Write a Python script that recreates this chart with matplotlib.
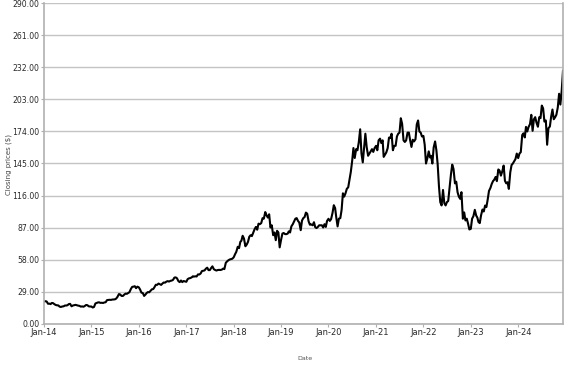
import numpy as np
import pandas as pd
import matplotlib
matplotlib.use("Agg")
import matplotlib.pyplot as plt
import matplotlib.dates as mdates
from matplotlib.ticker import MultipleLocator, FormatStrFormatter

# closing prices, three readings per month (1st, 11th, 21st)
p2014 = [19.9, 20.2, 20.0, 17.9, 18.0, 17.6, 18.6, 18.5, 17.6, 16.8, 16.5, 16.4,
         15.3, 15.0, 15.4, 15.6, 16.3, 16.3, 16.6, 17.6, 17.8, 15.6, 16.3, 16.6,
         16.9, 16.5, 16.2, 16.0, 15.3, 15.5, 15.2, 15.9, 16.8, 16.6, 15.6, 15.4]
p2015 = [15.4, 14.5, 15.0, 18.2, 18.7, 19.1, 19.2, 18.7, 18.8, 18.6, 19.1, 19.3,
         21.2, 21.3, 21.5, 21.4, 21.7, 21.8, 21.9, 22.6, 24.2, 26.7, 26.3, 25.0,
         25.0, 26.2, 27.1, 26.9, 27.6, 28.4, 31.3, 33.2, 33.4, 33.8, 32.0, 33.4]
p2016 = [32.8, 30.8, 28.0, 27.6, 25.0, 26.2, 27.6, 28.5, 28.3, 29.7, 31.0, 31.2,
         33.0, 35.1, 35.0, 36.2, 35.6, 35.0, 36.2, 37.2, 37.0, 38.0, 38.4, 38.0,
         38.7, 38.9, 39.6, 41.6, 41.8, 41.0, 38.4, 37.5, 39.0, 37.5, 38.5, 38.2]
p2017 = [37.8, 40.2, 40.9, 41.2, 41.8, 42.8, 42.5, 42.8, 42.6, 44.5, 44.4, 45.3,
         47.5, 47.8, 48.1, 49.7, 50.6, 48.4, 48.4, 50.3, 51.8, 49.2, 48.5, 48.0,
         48.5, 48.6, 48.5, 48.8, 49.7, 49.3, 55.0, 56.3, 57.3, 58.0, 58.4, 58.7]
p2018 = [60.0, 62.7, 65.0, 69.5, 68.3, 74.0, 75.0, 79.5, 77.0, 70.0, 71.5, 74.0,
         78.6, 80.0, 79.2, 82.5, 85.5, 87.5, 85.0, 90.5, 90.0, 91.0, 95.5, 95.0,
         101.0, 98.0, 96.0, 99.0, 87.0, 89.0, 80.0, 82.5, 75.5, 84.0, 82.5, 69.0]
p2019 = [76.0, 81.5, 82.0, 81.0, 81.0, 81.5, 83.5, 82.5, 88.0, 90.0, 92.5, 95.0,
         95.5, 93.0, 91.5, 84.6, 93.3, 95.5, 96.5, 100.5, 99.5, 92.5, 89.5, 89.8,
         89.0, 91.8, 87.2, 86.5, 87.5, 89.0, 89.0, 89.0, 87.0, 90.0, 87.5, 93.0]
p2020 = [94.9, 93.0, 94.6, 100.2, 107.2, 104.6, 96.0, 88.0, 95.0, 95.5, 103.0, 118.0,
         115.0, 118.0, 122.0, 123.5, 130.5, 137.5, 147.0, 159.0, 150.0, 158.0, 157.0, 164.0,
         176.0, 154.0, 146.0, 159.0, 172.0, 160.0, 152.0, 154.0, 156.0, 158.0, 155.5, 159.0]
p2021 = [161.0, 157.0, 166.0, 167.5, 163.5, 166.0, 151.0, 153.0, 155.0, 159.0, 168.5, 168.0,
         172.0, 157.0, 161.0, 161.0, 169.5, 172.0, 173.0, 186.0, 181.0, 166.0, 164.5, 166.0,
         173.0, 173.0, 166.0, 160.0, 166.5, 165.0, 167.0, 180.5, 184.0, 174.0, 173.0, 169.5]
p2022 = [170.0, 162.0, 145.0, 150.0, 156.0, 150.5, 152.0, 145.0, 159.5, 165.0, 157.0, 144.0,
         124.0, 110.0, 107.0, 121.0, 109.0, 107.0, 110.0, 111.0, 122.5, 135.0, 144.0, 140.0,
         127.0, 128.5, 119.0, 115.0, 113.0, 119.0, 95.0, 100.7, 93.4, 95.0, 90.5, 85.2]
p2023 = [85.8, 95.0, 97.2, 103.0, 98.0, 95.8, 92.0, 91.0, 98.0, 103.3, 101.5, 106.9,
         105.5, 112.2, 120.1, 122.8, 126.4, 129.0, 130.4, 132.8, 129.0, 139.6, 138.4, 134.0,
         138.1, 143.1, 129.3, 127.0, 128.0, 122.0, 137.0, 143.6, 145.0, 147.0, 149.0, 154.0]
p2024 = [149.9, 154.0, 155.3, 170.8, 172.3, 168.6, 178.2, 174.0, 178.1, 180.7, 189.1, 174.6,
         185.0, 187.0, 182.0, 178.3, 186.9, 186.1, 197.5, 195.0, 183.0, 184.0, 162.0, 177.0,
         178.5, 187.5, 193.9, 185.1, 186.8, 189.1, 195.8, 208.2, 198.4, 210.7, 229.0]

prices = p2014 + p2015 + p2016 + p2017 + p2018 + p2019 + p2020 + p2021 + p2022 + p2023 + p2024

months = pd.date_range("2014-01-01", "2024-12-01", freq="MS")
dates = [m + pd.Timedelta(days=d) for m in months for d in (0, 10, 20)]
dates = dates[:len(prices)]

fig = plt.figure(figsize=(5.77, 3.67), dpi=100)
ax = fig.add_axes([0.0763, 0.1185, 0.8994, 0.872])

ax.plot(dates, prices, color="black", linewidth=1.5)

ax.set_xlim(pd.Timestamp("2014-01-01"), dates[-1])
ax.set_ylim(0, 290)
ax.yaxis.set_major_locator(MultipleLocator(29))
ax.yaxis.set_major_formatter(FormatStrFormatter("%.2f"))
ax.xaxis.set_major_locator(mdates.YearLocator())
ax.xaxis.set_major_formatter(mdates.DateFormatter("Jan-%y"))

ax.grid(axis="y", color="#c4c4c4", linewidth=1)
ax.set_axisbelow(True)
for side in ["left", "bottom", "right"]:
    ax.spines[side].set_color("#b0b0b0")
    ax.spines[side].set_linewidth(1.2)
ax.spines["top"].set_visible(False)

ax.tick_params(axis="both", colors="#b0b0b0", labelcolor="#2a2a2a", length=2, pad=1.5)
ax.tick_params(axis="y", labelsize=5.6)
ax.tick_params(axis="x", labelsize=6)

fig.text(0.016, 0.552, "Closing prices ($)", rotation=90, fontsize=5,
         color="#444444", ha="center", va="center")
fig.text(0.529, 0.022, "Date", fontsize=4.6, color="#555555", ha="center", va="center")

fig.savefig("out.png", dpi=100)
